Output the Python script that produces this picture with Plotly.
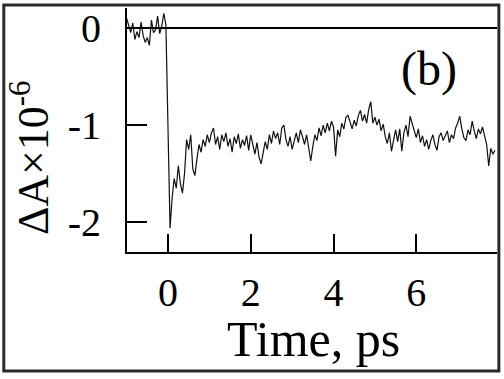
import numpy as np
import plotly.graph_objects as go

# Time axis (ps) and signal (ΔA × 10^-6)
t_pre = [-1.00, -0.95, -0.90, -0.85, -0.80, -0.75, -0.70, -0.65, -0.60, -0.55,
         -0.50, -0.45, -0.40, -0.35, -0.30, -0.25, -0.20, -0.15, -0.10, -0.05]
v_pre = [0.10, 0.02, -0.05, 0.05, -0.12, -0.04, -0.10, 0.06, -0.08, -0.15,
         -0.10, -0.18, 0.08, -0.05, -0.02, 0.12, -0.06, 0.02, 0.15, 0.03]

t_rise = [0.00, 0.05, 0.10, 0.15, 0.20, 0.25, 0.30, 0.35, 0.40, 0.45,
          0.50, 0.55, 0.60, 0.65, 0.70, 0.75]
v_rise = [-1.00, -2.06, -1.75, -1.55, -1.65, -1.42, -1.60, -1.70, -1.50, -1.15,
          -1.25, -1.10, -1.45, -1.52, -1.35, -1.20]

t_late = [round(0.80 + 0.05 * i, 2) for i in range(143)]
v_late = [
    -1.28, -1.15, -1.22, -1.10, -1.18, -1.08, -1.03, -1.20, -1.12, -1.25,
    -1.10, -1.17, -1.08, -1.22, -1.14, -1.28, -1.12, -1.19, -1.09, -1.24,
    -1.15, -1.21, -1.11, -1.26, -1.10, -1.22, -1.30, -1.18, -1.33, -1.40,
    -1.28, -1.17, -1.25, -1.10, -1.19, -1.06, -1.14, -1.08, -1.20, -1.03,
    -1.00, -1.15, -1.22, -1.12, -1.25, -1.16, -1.08, -1.18, -1.05, -1.12,
    -1.20, -1.10, -1.24, -1.37, -1.22, -1.10, -1.16, -1.03, -1.11, -1.00,
    -1.08, -0.98, -1.06, -0.96, -1.02, -1.32, -1.05, -1.12, -0.98, -1.04,
    -0.92, -0.90, -0.97, -1.04, -0.95, -1.01, -0.90, -0.85, -0.96, -0.89,
    -0.98, -0.84, -0.76, -0.98, -0.92, -1.00, -0.94, -1.06, -0.99, -1.12,
    -1.19, -1.08, -1.27, -1.14, -1.05, -1.17, -1.04, -1.27, -1.08, -1.00,
    -1.12, -0.91, -0.99, -1.06, -1.13, -1.04, -1.18, -1.11, -1.22, -1.15,
    -1.25, -1.16, -1.10, -1.20, -1.26, -1.12, -1.08, -1.16, -1.11, -1.06,
    -1.18, -1.10, -1.14, -1.03, -0.98, -0.91, -1.04, -1.13, -1.16, -1.05,
    -1.10, -0.96, -1.06, -1.14, -1.04, -1.09, -1.02, -1.13, -1.20, -1.42,
    -1.24, -1.30, -1.26,
]

time = t_pre + t_rise + t_late
signal = v_pre + v_rise + v_late

x_ticks = [0, 2, 4, 6]
y_ticks = [0, -1, -2]
x_range = [-0.99, 7.95]
y_range = [-2.306, 0.204]

FONT = "Liberation Serif"

fig = go.Figure()
fig.add_trace(go.Scatter(x=time, y=signal, mode="lines",
                         line=dict(color="#111111", width=1.2),
                         showlegend=False, hoverinfo="skip"))

fig.update_layout(
    width=504, height=379,
    margin=dict(l=127, r=7, t=6, b=127),
    paper_bgcolor="white", plot_bgcolor="white",
    font=dict(family=FONT, color="black"),
    xaxis=dict(range=x_range, tickvals=x_ticks, ticktext=[str(v) for v in x_ticks],
               ticks="inside", ticklen=18, tickwidth=2, tickcolor="black",
               showline=True, linecolor="black", linewidth=2,
               showgrid=False, zeroline=False,
               tickfont=dict(family=FONT, size=40, color="black"),
               ticklabelstandoff=4),
    yaxis=dict(range=y_range, tickvals=y_ticks, ticktext=["0", "-1", "-2"],
               ticks="inside", ticklen=20, tickwidth=2, tickcolor="black",
               showline=True, linecolor="black", linewidth=2,
               showgrid=False, zeroline=True, zerolinecolor="black", zerolinewidth=2,
               tickfont=dict(family=FONT, size=40, color="black"),
               ticklabelstandoff=16),
    shapes=[
        dict(type="rect", xref="paper", yref="paper",
             x0=-0.333, x1=1.005, y0=-0.488, y1=1.012,
             line=dict(color="#2a2a2a", width=3), fillcolor="rgba(0,0,0,0)", layer="above"),
    ],
    annotations=[
        dict(text="Time, ps", xref="paper", yref="paper", x=0.505, y=-0.478,
             xanchor="center", yanchor="bottom", showarrow=False,
             font=dict(family=FONT, size=50, color="black")),
        dict(text="ΔA×10<sup>-6</sup>", xref="paper", yref="paper", x=-0.262, y=0.385,
             xanchor="center", yanchor="middle", textangle=-90, showarrow=False,
             font=dict(family=FONT, size=44, color="black")),
        dict(text="(b)", x=6.3, y=-0.42, xanchor="center", yanchor="middle",
             showarrow=False, font=dict(family=FONT, size=48, color="black")),
    ],
)

fig.write_html("out.html", config={"displayModeBar": False},
               post_script="document.body.style.margin='0';document.body.style.overflow='hidden';")
